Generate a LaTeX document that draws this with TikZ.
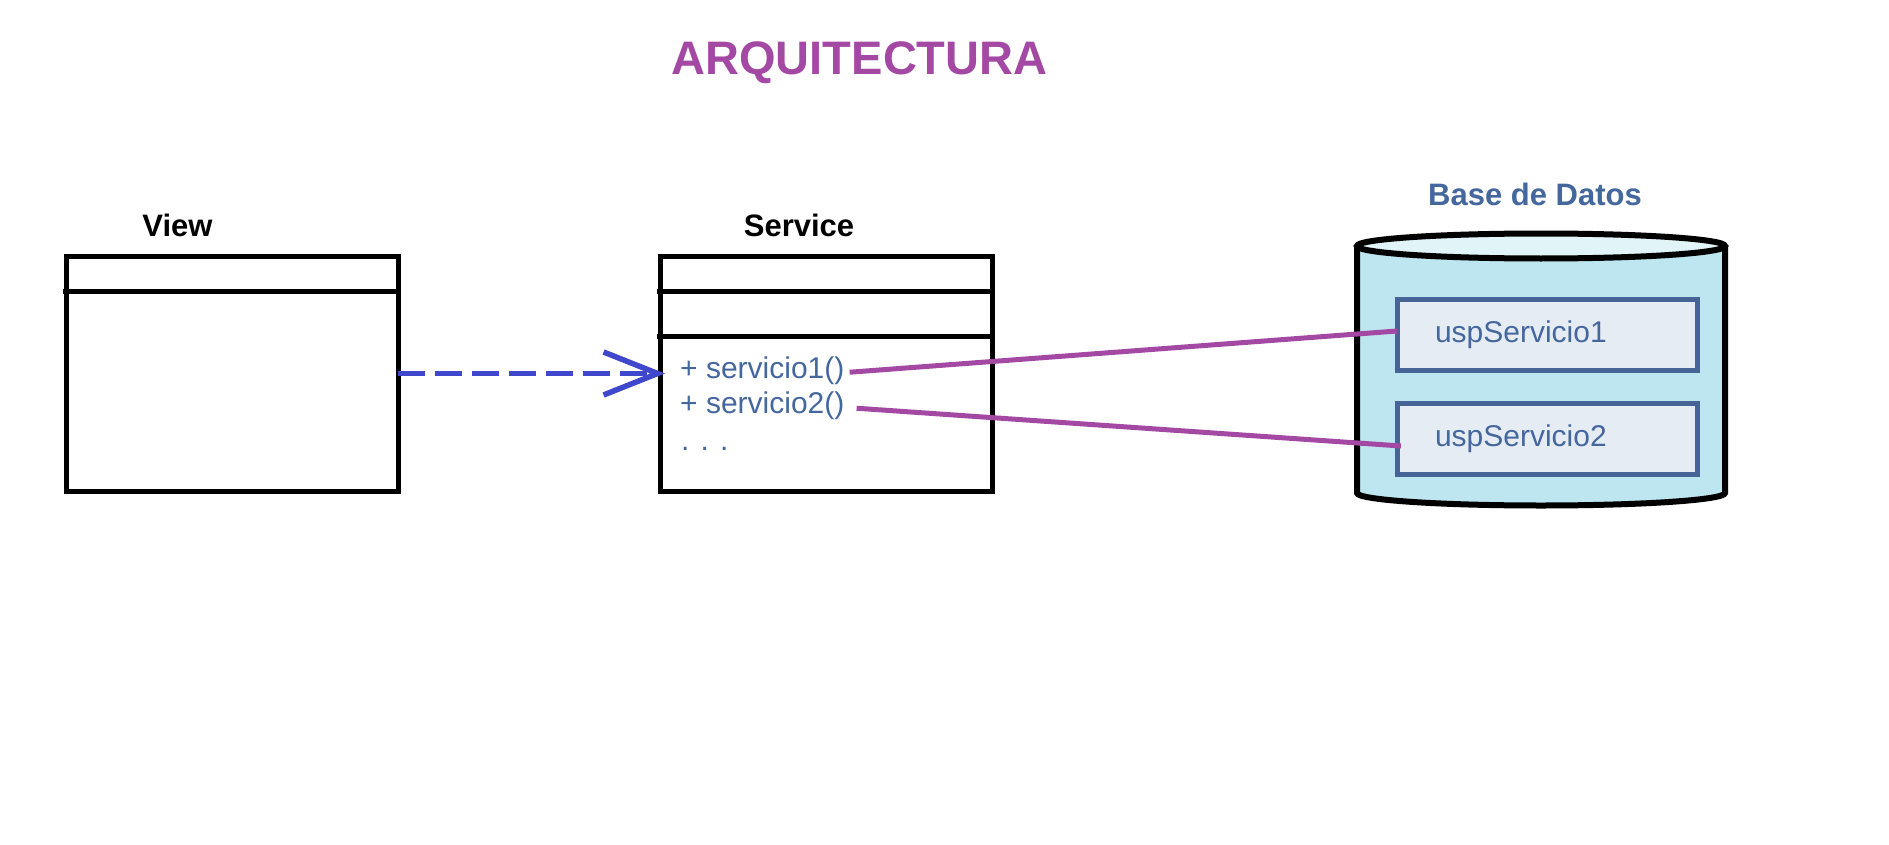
\documentclass[tikz,border=0pt]{standalone}
\usepackage{fontspec}
\setmainfont{Liberation Sans}
\usetikzlibrary{arrows.meta, calc}
\definecolor{morado}{RGB}{163,73,164}
\definecolor{azuldep}{RGB}{63,72,204}
\definecolor{azultxt}{RGB}{68,103,157}
\definecolor{bordeusp}{RGB}{70,100,150}
\definecolor{rellenousp}{RGB}{230,236,244}
\definecolor{cuerpobd}{RGB}{190,230,240}
\definecolor{tapabd}{RGB}{225,244,248}
\tikzset{
    %Define style for class boxes
    clase/.style={
           rectangle,
           draw=black, line width=5pt,
           minimum width=332pt,
           minimum height=235pt,
           inner sep=0pt, outer sep=0pt},
    divisor/.style={
           draw=black, line width=5pt,
           shorten <=-3pt},
    % Define style for titles
    titulo/.style={
           anchor=base,
           inner sep=0pt,
           font={\fontsize{31}{36}\selectfont\bfseries}},
    metodo/.style={
           anchor=base west,
           inner sep=0pt,
           text=azultxt,
           font={\fontsize{30}{36}\selectfont}},
    % Define style for stored procedures
    usp/.style={
           rectangle,
           draw=bordeusp, line width=5pt,
           fill=rellenousp,
           minimum width=300pt,
           minimum height=71pt,
           text width=224pt, align=left,
           inner xsep=38pt, inner ysep=0pt, outer sep=0pt,
           text=azultxt,
           font={\fontsize{30}{36}\selectfont}},
    % Define arrow style
    dep/.style={
           -{Straight Barb[length=54pt, width=43pt]},
           draw=azuldep, line width=5.5pt,
           dash pattern=on 27pt off 10pt},
    enlace/.style={
           draw=morado, line width=5pt},
    bd/.style={
           draw=black, line width=6pt}
}
\begin{document}
\begin{tikzpicture}[x=1pt, y=-1pt]
	\useasboundingbox (0,0) rectangle (1889,845);
	%
	% titulo
	%
	\node[titulo, text=morado, font={\fontsize{47}{52}\selectfont\bfseries}] (arq) at (859.5,75) {ARQUITECTURA};
	%
	% clases
	%
	\node[clase] (view) at (232,373.5) {};
	\node[titulo] (viewlbl) at (177.5,236) {View};
	\draw[divisor] ([yshift=-35pt]view.north west) -- ([yshift=-35pt]view.north east);
	\node[clase] (service) at (826,373.5) {};
	\node[titulo] (servicelbl) at (799,236) {Service};
	\draw[divisor] ([yshift=-35pt]service.north west) -- ([yshift=-35pt]service.north east);
	\draw[divisor] ([yshift=-80pt]service.north west) -- ([yshift=-80pt]service.north east);
	\node[metodo] (svc1) at (680,378) {+ servicio1()};
	\node[metodo] (svc2) at (680,413) {+ servicio2()};
	\node[metodo] (puntos) at (681,450) {. . .};
	%
	% base de datos
	%
	\node[titulo, text=azultxt] (bdlbl) at (1535,205) {Base de Datos};
	\filldraw[bd, fill=cuerpobd] (1357,246) -- (1357,493) arc[start angle=180, end angle=360, x radius=184pt, y radius=12.5pt] -- (1725,246);
	\filldraw[bd, fill=tapabd] (1541,246) ellipse [x radius=184pt, y radius=12.5pt];
	\node[usp] (usp1) at (1547,334.5) {uspServicio1};
	\node[usp] (usp2) at (1547,438.5) {uspServicio2};
	%
	% Liens
	%
	\draw[dep] (view.east) -- ([xshift=5pt]service.west);
	\draw[enlace] ([xshift=5pt, yshift=-2pt]svc1.east) -- ([yshift=3.5pt]usp1.west);
	\draw[enlace] ([xshift=12pt, yshift=-3pt]svc2.east) -- ([xshift=4pt, yshift=-7.5pt]usp2.west);
\end{tikzpicture}
\end{document}
